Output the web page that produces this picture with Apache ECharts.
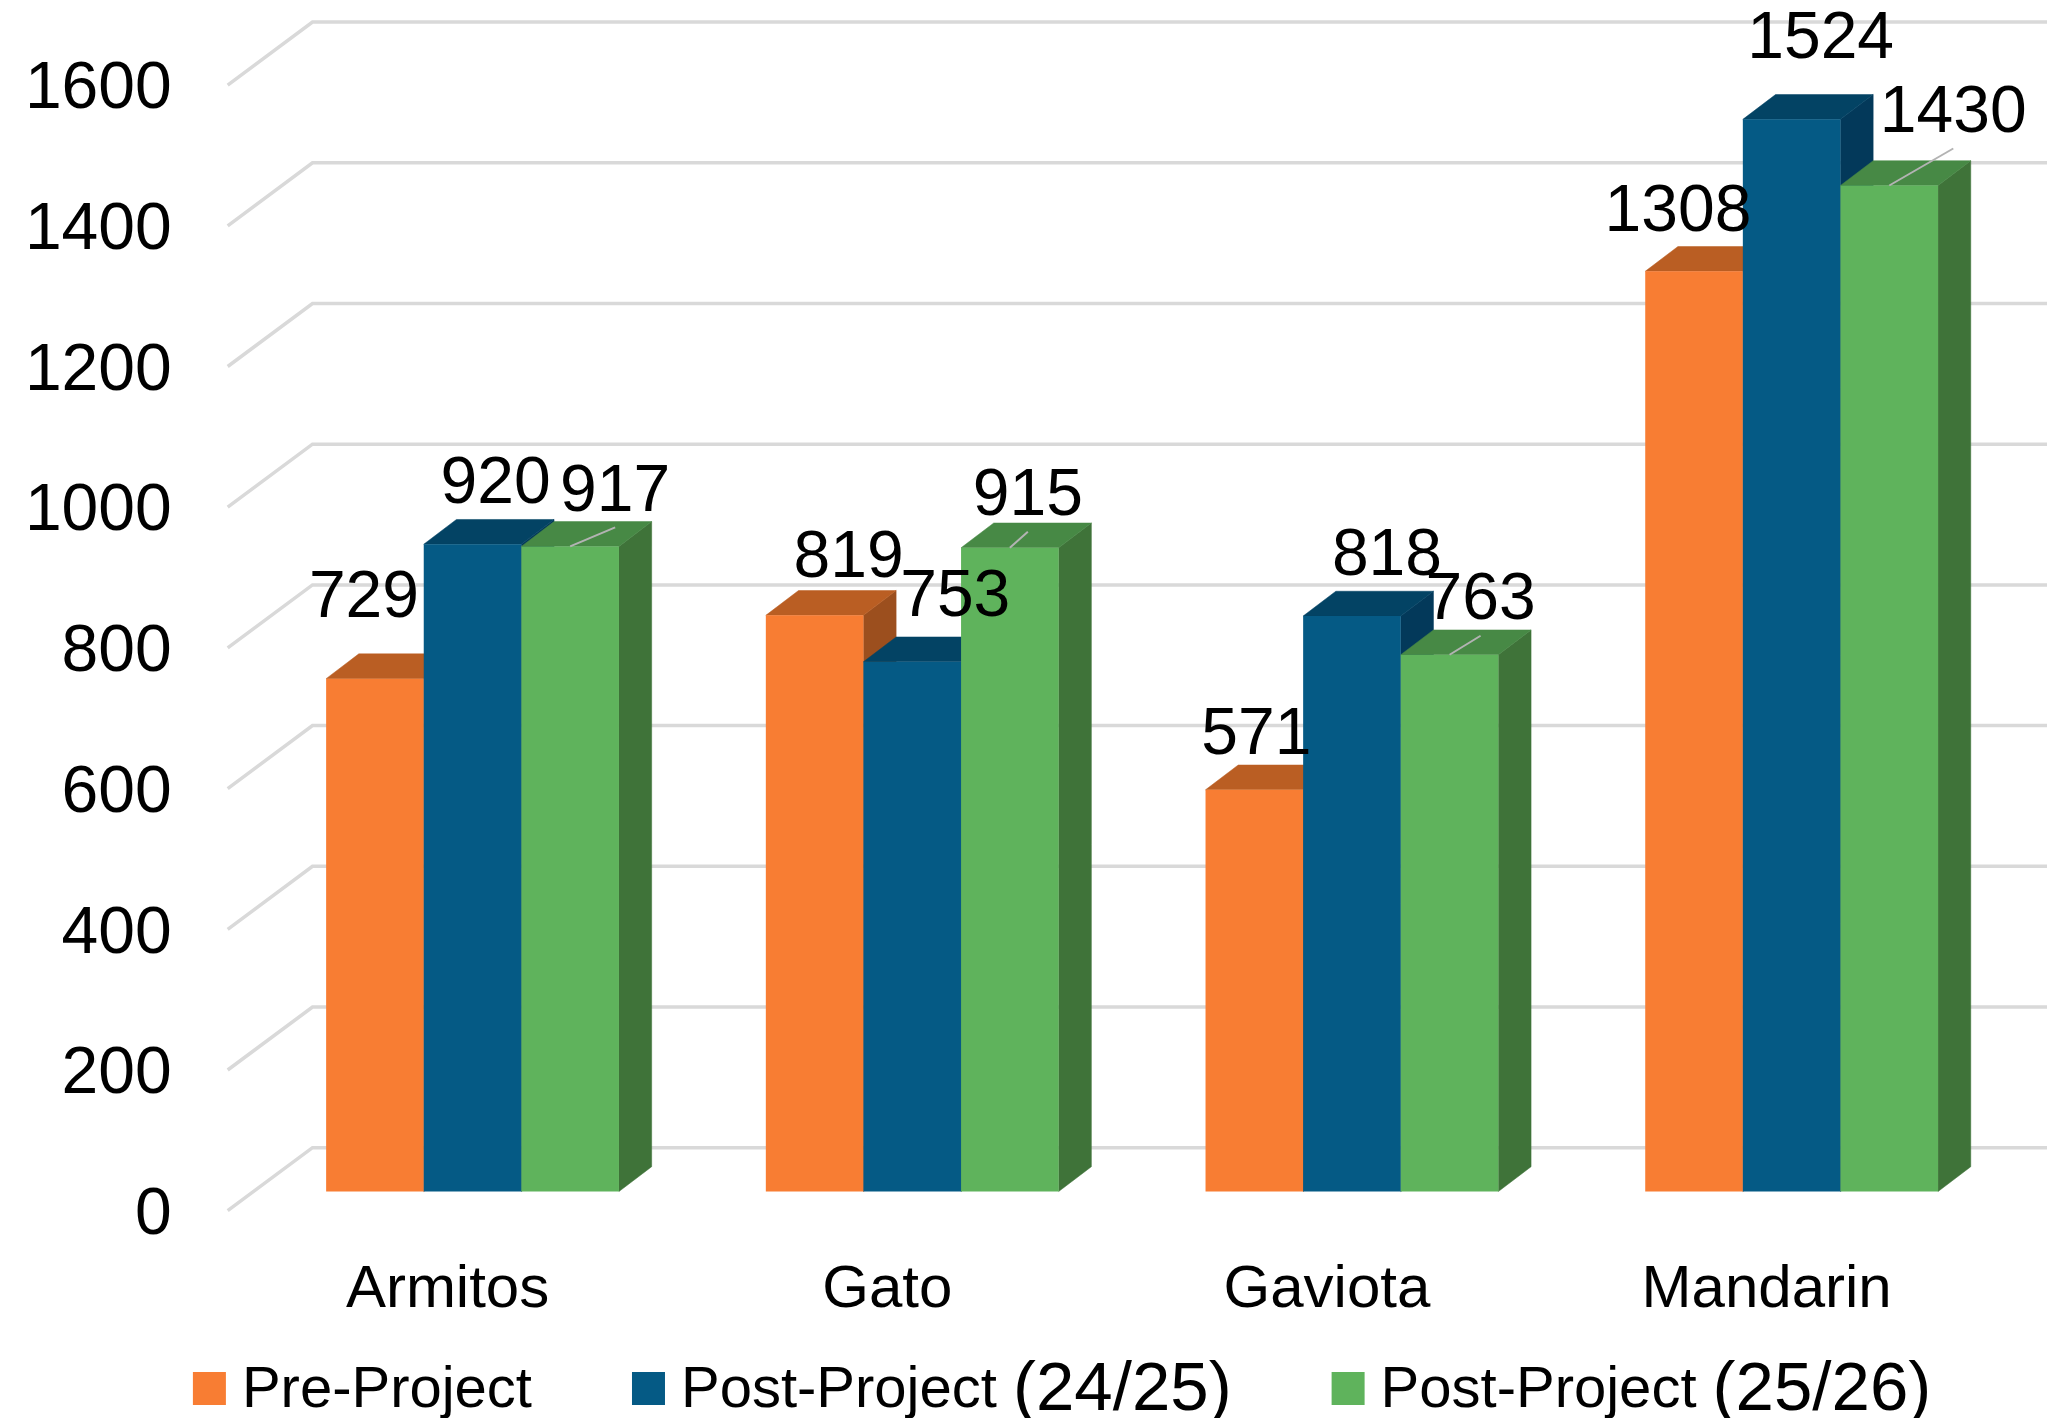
<!DOCTYPE html>
<html><head><meta charset="utf-8">
<style>html,body{margin:0;padding:0;background:#fff}#c{width:2047px;height:1418px}</style>
<script src="https://cdn.jsdelivr.net/npm/echarts@6/dist/echarts.min.js"></script>
</head><body><div id="c"></div>
<script>
const categories = ['Armitos', 'Gato', 'Gaviota', 'Mandarin'];
const yTicks = [0, 200, 400, 600, 800, 1000, 1200, 1400, 1600];
const preProject = [729, 819, 571, 1308];
const post2425 = [920, 753, 818, 1524];
const post2526 = [917, 915, 763, 1430];
const seriesNames = ['Pre-Project', 'Post-Project (24/25)', 'Post-Project (25/26)'];
const seriesValues = [preProject, post2425, post2526];

// styling only
const faceColors = ['#F87D33', '#055A85', '#5FB35C'];
const topColors = ['#BA5E23', '#034364', '#478945'];
const sideColors = ['#9C4F1E', '#03395A', '#3F7339'];
const labelOffsets = [
  [[-11, -84], [34, -61], [2, -58], [-16, -63]],
  [[23, -63], [43, -68], [35, -63], [29, -84]],
  [[45, -58], [18, -55], [31, -58], [64, -76]]
];
const FONT = '"Liberation Sans", Arial, sans-serif';
const floorDx = 84.8, floorDy = 63;
const shiftX = 25, shiftY = 19.2;
const barShare = 0.222, depthX = 32.7, depthY = 24.8;

function poly(points, fill) {
  return { type: 'polygon', shape: { points }, style: { fill, stroke: fill, lineWidth: 0.5 } };
}

const wallSeries = {
  type: 'custom', coordinateSystem: 'cartesian2d', silent: true, z: 1,
  data: yTicks.map(v => [0, v]), encode: { x: 0, y: 1 },
  renderItem(params, api) {
    const y = api.coord([0, api.value(1)])[1];
    const x0 = params.coordSys.x;
    return {
      type: 'polyline',
      shape: { points: [[x0, y], [x0 + floorDx, y - floorDy], [2060, y - floorDy]] },
      style: { fill: 'none', stroke: '#D9D9D9', lineWidth: 3.5 }
    };
  }
};

const barSeries = seriesNames.map((name, s) => ({
  name, type: 'custom', coordinateSystem: 'cartesian2d', z: 2,
  itemStyle: { color: faceColors[s] },
  data: seriesValues[s].map((v, i) => [i, v]), encode: { x: 0, y: 1 },
  renderItem(params, api) {
    const i = api.value(0), v = api.value(1);
    const band = api.size([1, 0])[0];
    const w = band * barShare;
    const top = api.coord([i, v]);
    const base = api.coord([i, 0]);
    const left = top[0] + shiftX + (s - 1.5) * w;
    const right = left + w;
    const yT = top[1] - shiftY, yB = base[1] - shiftY;
    const cx = left + w / 2;
    const off = labelOffsets[s][i];
    const lx = cx + off[0], ly = yT + off[1];
    const children = [
      poly([[right, yT], [right + depthX, yT - depthY], [right + depthX, yB - depthY], [right, yB]], sideColors[s]),
      poly([[left, yT], [left + depthX, yT - depthY], [right + depthX, yT - depthY], [right, yT]], topColors[s]),
      { type: 'rect', shape: { x: left, y: yT, width: w, height: yB - yT }, style: { fill: faceColors[s] } }
    ];
    if (s === 2) {
      children.push({
        type: 'line', z2: 50,
        shape: { x1: cx, y1: yT, x2: lx, y2: ly + 39 },
        style: { stroke: '#B3B3B3', lineWidth: 2 }
      });
    }
    children.push({
      type: 'text', z2: 100,
      style: { text: String(v), x: lx, y: ly + 4, align: 'center', verticalAlign: 'middle',
        fill: '#000', font: '66px ' + FONT }
    });
    return { type: 'group', children };
  }
}));

const chart = echarts.init(document.getElementById('c'), null, { renderer: 'canvas' });
chart.setOption({
  animation: false,
  backgroundColor: '#fff',
  grid: { left: 227.7, top: 85.1, width: 1758.8, height: 1125.6, containLabel: false },
  xAxis: {
    type: 'category', data: categories,
    axisLine: { show: false }, axisTick: { show: false }, splitLine: { show: false },
    axisLabel: { color: '#000', fontFamily: FONT, fontSize: 60, margin: 50 }
  },
  yAxis: {
    type: 'value', min: 0, max: 1600, interval: 200,
    axisLine: { show: false }, axisTick: { show: false }, splitLine: { show: false },
    axisLabel: { color: '#000', fontFamily: FONT, fontSize: 66, margin: 56,
      formatter: v => String(v), verticalAlign: 'top', lineHeight: 10 }
  },
  legend: {
    data: seriesNames, left: 192.9, top: 1356, icon: 'rect', itemWidth: 33, itemHeight: 33,
    itemGap: 100, padding: 0,
    formatter: name => name.replace(/\(.*\)/, m => '{d|' + m + '}'),
    textStyle: { color: '#000', fontFamily: FONT, fontSize: 58, padding: [4, 0, 0, 11],
      rich: { d: { color: '#000', fontFamily: FONT, fontSize: 69 } } }
  },
  series: [wallSeries, ...barSeries]
});
</script></body></html>
